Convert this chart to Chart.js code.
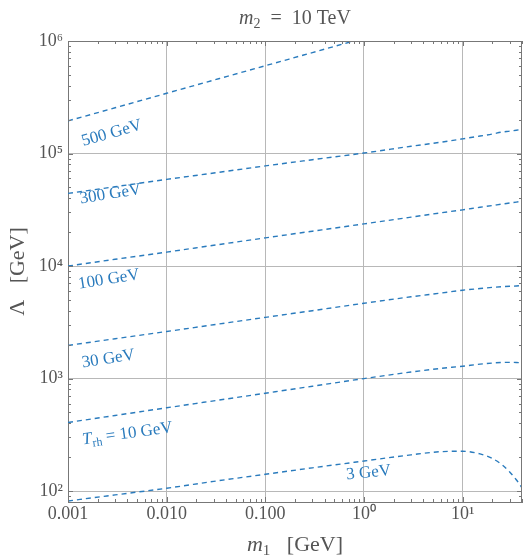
<!DOCTYPE html>
<html>
<head>
    <title>m2 = 10 TeV</title>
    <script src="https://cdn.jsdelivr.net/npm/chart.js@4.4.1/dist/chart.umd.min.js"></script>
    <style>
        body { margin: 0; background-color: #ffffff; }
        canvas { display: block; }
    </style>
</head>
<body>
    <canvas id="lambdaChart" width="531" height="559"></canvas>
    <script>
        // m1 sample points [GeV]
        const m1 = [0.001, 0.003, 0.01, 0.03, 0.1, 0.3, 1, 3, 6, 10, 15, 20, 25, 30, 35, 40];

        // Lambda [GeV] along each reheating temperature contour
        const lam500 = [195000, 255000, 343000, 449000, 603000, 789000, 1060000, 1380000, null, null, null, null, null, null, null, null];
        const lam300 = [44200, 50700, 58900, 67100, 77600, 88100, 101000, 116000, 126000, 135000, 143000, 149000, 155000, 158000, 161000, 164000];
        const lam100 = [10000, 11480, 13300, 15300, 17800, 20400, 23700, 27200, 29700, 31600, 33300, 34500, 35500, 36300, 37000, 37600];
        const lam30 = [1970, 2260, 2620, 3010, 3500, 4010, 4670, 5330, 5750, 6100, 6310, 6460, 6550, 6610, 6650, 6700];
        const lam10 = [407, 470, 550, 634, 741, 855, 1000, 1143, 1230, 1288, 1343, 1374, 1390, 1393, 1390, 1380];
        const lam3 = [81.7, 92.5, 106, 122, 141, 161, 185, 210, 224, 226, 214, 195, 172, 148, 126, 107];

        // axis ranges and tick labels
        const xRange = [0.001, 40];
        const yRange = [80, 1000000];
        const xTickValues = [0.001, 0.01, 0.1, 1, 10];
        const xTickLabels = ['0.001', '0.010', '0.100', '10⁰', '10¹'];
        const yTickValues = [100, 1000, 10000, 100000, 1000000];
        const yTickLabels = ['10²', '10³', '10⁴', '10⁵', '10⁶'];

        // contour labels: text parts, anchor in data coords (m1, Lambda), rotation
        const curveLabels = [
            { parts: [{ t: '500 GeV' }], m1: 0.00275, lam: 156000, angle: -16 },
            { parts: [{ t: '300 GeV' }], m1: 0.00268, lam: 44800, angle: -9 },
            { parts: [{ t: '100 GeV' }], m1: 0.00258, lam: 7830, angle: -9 },
            { parts: [{ t: '30 GeV' }], m1: 0.00255, lam: 1540, angle: -9 },
            { parts: [{ t: 'T', i: true }, { t: 'rh', sub: true }, { t: ' = 10 GeV' }], m1: 0.00399, lam: 333, angle: -8 },
            { parts: [{ t: '3 GeV' }], m1: 1.11, lam: 150, angle: -6 }
        ];

        const lineColor = '#2a7bbd';
        const textGray = '#555555';
        const serif = '"Liberation Serif", "Times New Roman", serif';

        function series(vals) {
            const pts = [];
            m1.forEach(function (x, i) {
                if (vals[i] !== null) pts.push({ x: x, y: vals[i] });
            });
            return pts;
        }

        function logTicks(min, max) {
            const out = [];
            for (let d = Math.floor(Math.log10(min)); d <= Math.ceil(Math.log10(max)); d++) {
                for (let k = 1; k <= 9; k++) {
                    const v = Number((k * Math.pow(10, d)).toPrecision(6));
                    if (v >= min * 0.9999 && v <= max * 1.0001) out.push(v);
                }
            }
            return out;
        }

        function isMajor(v) {
            const l = Math.log10(v);
            return Math.abs(l - Math.round(l)) < 1e-6;
        }

        function labelFor(values, labels, v) {
            const i = values.findIndex(function (t) { return Math.abs(t - v) / t < 1e-6; });
            return i >= 0 ? labels[i] : '';
        }

        function drawRich(ctx, parts, cx, cy, size, color, angle) {
            ctx.save();
            ctx.translate(cx, cy);
            ctx.rotate(angle * Math.PI / 180);
            ctx.fillStyle = color;
            ctx.textBaseline = 'alphabetic';
            const fontOf = function (p) {
                return (p.i ? 'italic ' : '') + (p.sub ? Math.round(size * 0.7) : size) + 'px ' + serif;
            };
            let w = 0;
            parts.forEach(function (p) { ctx.font = fontOf(p); w += ctx.measureText(p.t).width; });
            let x = -w / 2;
            parts.forEach(function (p) {
                ctx.font = fontOf(p);
                ctx.fillText(p.t, x, p.sub ? size * 0.2 : 0);
                x += ctx.measureText(p.t).width;
            });
            ctx.restore();
        }

        // frame, inward ticks, title, axis titles and contour labels
        const decorations = {
            id: 'decorations',
            afterDatasetsDraw(chart) {
                const ctx = chart.ctx;
                const a = chart.chartArea;
                const xs = chart.scales.x;
                const ys = chart.scales.y;
                ctx.save();
                ctx.strokeStyle = '#777777';
                ctx.lineWidth = 1;
                ctx.beginPath();
                ctx.moveTo(a.left, Math.round(a.top) + 0.5);
                ctx.lineTo(a.right, Math.round(a.top) + 0.5);
                ctx.moveTo(Math.round(a.right) - 0.5, a.top);
                ctx.lineTo(Math.round(a.right) - 0.5, a.bottom);
                xs.ticks.forEach(function (t) {
                    const px = Math.round(xs.getPixelForValue(t.value)) + 0.5;
                    const len = isMajor(t.value) ? 5 : 3;
                    ctx.moveTo(px, a.bottom); ctx.lineTo(px, a.bottom - len);
                    ctx.moveTo(px, a.top); ctx.lineTo(px, a.top + len);
                });
                ys.ticks.forEach(function (t) {
                    const py = Math.round(ys.getPixelForValue(t.value)) + 0.5;
                    const len = isMajor(t.value) ? 5 : 3;
                    ctx.moveTo(a.left, py); ctx.lineTo(a.left + len, py);
                    ctx.moveTo(a.right, py); ctx.lineTo(a.right - len, py);
                });
                ctx.stroke();
                ctx.restore();

                const midX = (a.left + a.right) / 2;
                const midY = (a.top + a.bottom) / 2;
                drawRich(ctx, [{ t: 'm', i: true }, { t: '2', sub: true }, { t: '  =  10 TeV' }], midX, 24, 20, textGray, 0);
                drawRich(ctx, [{ t: 'm', i: true }, { t: '1', sub: true }, { t: '   [GeV]' }], midX, 551, 22, textGray, 0);
                drawRich(ctx, [{ t: 'Λ   [GeV]' }], 24, midY, 22, textGray, -90);

                curveLabels.forEach(function (l) {
                    const px = xs.getPixelForValue(l.m1);
                    const py = ys.getPixelForValue(l.lam);
                    ctx.save();
                    ctx.translate(px, py);
                    ctx.rotate(l.angle * Math.PI / 180);
                    drawRich(ctx, l.parts, 0, 6, 17, lineColor, 0);
                    ctx.restore();
                });
            }
        };

        const curves = [lam500, lam300, lam100, lam30, lam10, lam3];

        new Chart(document.getElementById('lambdaChart').getContext('2d'), {
            type: 'line',
            data: {
                datasets: curves.map(function (vals) {
                    return {
                        data: series(vals),
                        borderColor: lineColor,
                        borderWidth: 1.4,
                        borderDash: [5, 4],
                        pointRadius: 0,
                        fill: false,
                        cubicInterpolationMode: 'monotone'
                    };
                })
            },
            options: {
                responsive: false,
                animation: false,
                layout: { padding: { left: 0, right: 9, top: 41, bottom: 0 } },
                plugins: {
                    legend: { display: false },
                    title: { display: false },
                    tooltip: { enabled: false }
                },
                scales: {
                    x: {
                        type: 'logarithmic',
                        position: 'bottom',
                        min: xRange[0],
                        max: xRange[1],
                        afterBuildTicks: function (scale) {
                            scale.ticks = logTicks(xRange[0], xRange[1]).map(function (v) { return { value: v }; });
                        },
                        afterFit: function (scale) { scale.height = 57; },
                        ticks: {
                            autoSkip: false,
                            maxRotation: 0,
                            padding: 1,
                            color: textGray,
                            font: { family: serif, size: 18 },
                            callback: function (v) { return labelFor(xTickValues, xTickLabels, v); }
                        },
                        grid: {
                            drawTicks: false,
                            color: function (c) { return c.tick && isMajor(c.tick.value) ? '#b8b8b8' : 'rgba(0,0,0,0)'; },
                            lineWidth: 1
                        },
                        border: { display: true, color: '#777777', width: 1 }
                    },
                    y: {
                        type: 'logarithmic',
                        position: 'left',
                        min: yRange[0],
                        max: yRange[1],
                        afterBuildTicks: function (scale) {
                            scale.ticks = logTicks(yRange[0], yRange[1]).map(function (v) { return { value: v }; });
                        },
                        afterFit: function (scale) { scale.width = 68; },
                        ticks: {
                            autoSkip: false,
                            padding: 5,
                            color: textGray,
                            font: { family: serif, size: 18 },
                            callback: function (v) { return labelFor(yTickValues, yTickLabels, v); }
                        },
                        grid: {
                            drawTicks: false,
                            color: function (c) { return c.tick && isMajor(c.tick.value) ? '#b8b8b8' : 'rgba(0,0,0,0)'; },
                            lineWidth: 1
                        },
                        border: { display: true, color: '#777777', width: 1 }
                    }
                }
            },
            plugins: [decorations]
        });
    </script>
</body>
</html>
